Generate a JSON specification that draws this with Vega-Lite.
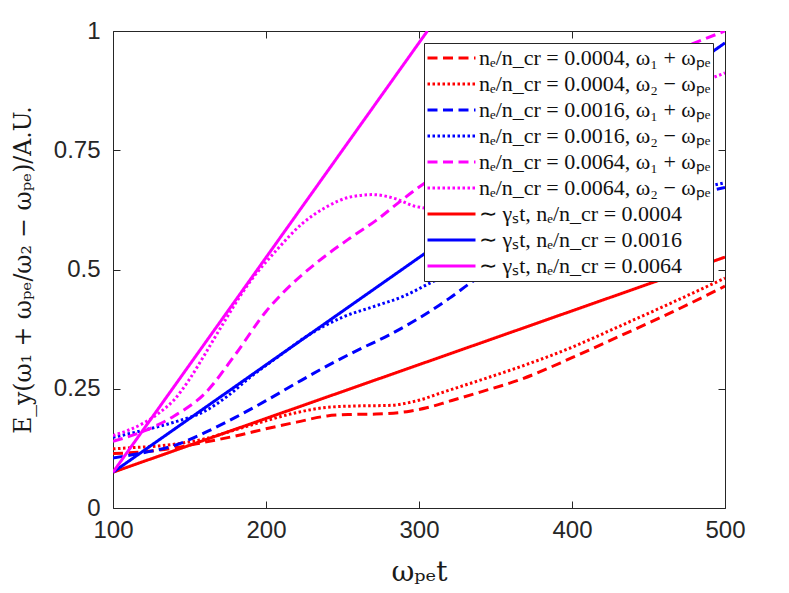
{
  "$schema": "https://vega.github.io/schema/vega-lite/v6.json",
  "width": 612,
  "height": 477,
  "autosize": {"type": "none"},
  "padding": {"left": 113, "top": 31, "right": 64, "bottom": 85},
  "background": "white",
  "view": {"stroke": "#262626", "strokeWidth": 1},
  "data": {
    "values": [
      {"s": "nₑ/n_cr = 0.0004, ω₁ + ωₚₑ", "t": 100, "E": 0.114},
      {"s": "nₑ/n_cr = 0.0004, ω₁ + ωₚₑ", "t": 120, "E": 0.118},
      {"s": "nₑ/n_cr = 0.0004, ω₁ + ωₚₑ", "t": 140, "E": 0.126},
      {"s": "nₑ/n_cr = 0.0004, ω₁ + ωₚₑ", "t": 160, "E": 0.138},
      {"s": "nₑ/n_cr = 0.0004, ω₁ + ωₚₑ", "t": 180, "E": 0.151},
      {"s": "nₑ/n_cr = 0.0004, ω₁ + ωₚₑ", "t": 200, "E": 0.166},
      {"s": "nₑ/n_cr = 0.0004, ω₁ + ωₚₑ", "t": 220, "E": 0.18},
      {"s": "nₑ/n_cr = 0.0004, ω₁ + ωₚₑ", "t": 240, "E": 0.193},
      {"s": "nₑ/n_cr = 0.0004, ω₁ + ωₚₑ", "t": 255, "E": 0.196},
      {"s": "nₑ/n_cr = 0.0004, ω₁ + ωₚₑ", "t": 272, "E": 0.197},
      {"s": "nₑ/n_cr = 0.0004, ω₁ + ωₚₑ", "t": 294, "E": 0.203},
      {"s": "nₑ/n_cr = 0.0004, ω₁ + ωₚₑ", "t": 305, "E": 0.21},
      {"s": "nₑ/n_cr = 0.0004, ω₁ + ωₚₑ", "t": 320, "E": 0.224},
      {"s": "nₑ/n_cr = 0.0004, ω₁ + ωₚₑ", "t": 340, "E": 0.243},
      {"s": "nₑ/n_cr = 0.0004, ω₁ + ωₚₑ", "t": 366, "E": 0.269},
      {"s": "nₑ/n_cr = 0.0004, ω₁ + ωₚₑ", "t": 400, "E": 0.315},
      {"s": "nₑ/n_cr = 0.0004, ω₁ + ωₚₑ", "t": 431, "E": 0.36},
      {"s": "nₑ/n_cr = 0.0004, ω₁ + ωₚₑ", "t": 465, "E": 0.41},
      {"s": "nₑ/n_cr = 0.0004, ω₁ + ωₚₑ", "t": 500, "E": 0.465},

      {"s": "nₑ/n_cr = 0.0004, ω₂ − ωₚₑ", "t": 100, "E": 0.124},
      {"s": "nₑ/n_cr = 0.0004, ω₂ − ωₚₑ", "t": 115, "E": 0.127},
      {"s": "nₑ/n_cr = 0.0004, ω₂ − ωₚₑ", "t": 130, "E": 0.13},
      {"s": "nₑ/n_cr = 0.0004, ω₂ − ωₚₑ", "t": 145, "E": 0.136},
      {"s": "nₑ/n_cr = 0.0004, ω₂ − ωₚₑ", "t": 160, "E": 0.145},
      {"s": "nₑ/n_cr = 0.0004, ω₂ − ωₚₑ", "t": 180, "E": 0.164},
      {"s": "nₑ/n_cr = 0.0004, ω₂ − ωₚₑ", "t": 200, "E": 0.183},
      {"s": "nₑ/n_cr = 0.0004, ω₂ − ωₚₑ", "t": 220, "E": 0.2},
      {"s": "nₑ/n_cr = 0.0004, ω₂ − ωₚₑ", "t": 240, "E": 0.211},
      {"s": "nₑ/n_cr = 0.0004, ω₂ − ωₚₑ", "t": 260, "E": 0.214},
      {"s": "nₑ/n_cr = 0.0004, ω₂ − ωₚₑ", "t": 280, "E": 0.215},
      {"s": "nₑ/n_cr = 0.0004, ω₂ − ωₚₑ", "t": 300, "E": 0.226},
      {"s": "nₑ/n_cr = 0.0004, ω₂ − ωₚₑ", "t": 315, "E": 0.242},
      {"s": "nₑ/n_cr = 0.0004, ω₂ − ωₚₑ", "t": 340, "E": 0.268},
      {"s": "nₑ/n_cr = 0.0004, ω₂ − ωₚₑ", "t": 366, "E": 0.296},
      {"s": "nₑ/n_cr = 0.0004, ω₂ − ωₚₑ", "t": 400, "E": 0.337},
      {"s": "nₑ/n_cr = 0.0004, ω₂ − ωₚₑ", "t": 431, "E": 0.381},
      {"s": "nₑ/n_cr = 0.0004, ω₂ − ωₚₑ", "t": 465, "E": 0.43},
      {"s": "nₑ/n_cr = 0.0004, ω₂ − ωₚₑ", "t": 500, "E": 0.482},

      {"s": "nₑ/n_cr = 0.0016, ω₁ + ωₚₑ", "t": 100, "E": 0.105},
      {"s": "nₑ/n_cr = 0.0016, ω₁ + ωₚₑ", "t": 120, "E": 0.116},
      {"s": "nₑ/n_cr = 0.0016, ω₁ + ωₚₑ", "t": 140, "E": 0.131},
      {"s": "nₑ/n_cr = 0.0016, ω₁ + ωₚₑ", "t": 160, "E": 0.158},
      {"s": "nₑ/n_cr = 0.0016, ω₁ + ωₚₑ", "t": 180, "E": 0.19},
      {"s": "nₑ/n_cr = 0.0016, ω₁ + ωₚₑ", "t": 200, "E": 0.225},
      {"s": "nₑ/n_cr = 0.0016, ω₁ + ωₚₑ", "t": 220, "E": 0.262},
      {"s": "nₑ/n_cr = 0.0016, ω₁ + ωₚₑ", "t": 240, "E": 0.298},
      {"s": "nₑ/n_cr = 0.0016, ω₁ + ωₚₑ", "t": 260, "E": 0.331},
      {"s": "nₑ/n_cr = 0.0016, ω₁ + ωₚₑ", "t": 280, "E": 0.362},
      {"s": "nₑ/n_cr = 0.0016, ω₁ + ωₚₑ", "t": 300, "E": 0.398},
      {"s": "nₑ/n_cr = 0.0016, ω₁ + ωₚₑ", "t": 320, "E": 0.44},
      {"s": "nₑ/n_cr = 0.0016, ω₁ + ωₚₑ", "t": 335, "E": 0.475},
      {"s": "nₑ/n_cr = 0.0016, ω₁ + ωₚₑ", "t": 370, "E": 0.54},
      {"s": "nₑ/n_cr = 0.0016, ω₁ + ωₚₑ", "t": 400, "E": 0.585},
      {"s": "nₑ/n_cr = 0.0016, ω₁ + ωₚₑ", "t": 450, "E": 0.635},
      {"s": "nₑ/n_cr = 0.0016, ω₁ + ωₚₑ", "t": 500, "E": 0.672},

      {"s": "nₑ/n_cr = 0.0016, ω₂ − ωₚₑ", "t": 100, "E": 0.148},
      {"s": "nₑ/n_cr = 0.0016, ω₂ − ωₚₑ", "t": 120, "E": 0.163},
      {"s": "nₑ/n_cr = 0.0016, ω₂ − ωₚₑ", "t": 140, "E": 0.18},
      {"s": "nₑ/n_cr = 0.0016, ω₂ − ωₚₑ", "t": 160, "E": 0.203},
      {"s": "nₑ/n_cr = 0.0016, ω₂ − ωₚₑ", "t": 175, "E": 0.235},
      {"s": "nₑ/n_cr = 0.0016, ω₂ − ωₚₑ", "t": 190, "E": 0.275},
      {"s": "nₑ/n_cr = 0.0016, ω₂ − ωₚₑ", "t": 210, "E": 0.322},
      {"s": "nₑ/n_cr = 0.0016, ω₂ − ωₚₑ", "t": 228, "E": 0.363},
      {"s": "nₑ/n_cr = 0.0016, ω₂ − ωₚₑ", "t": 250, "E": 0.4},
      {"s": "nₑ/n_cr = 0.0016, ω₂ − ωₚₑ", "t": 272, "E": 0.424},
      {"s": "nₑ/n_cr = 0.0016, ω₂ − ωₚₑ", "t": 290, "E": 0.444},
      {"s": "nₑ/n_cr = 0.0016, ω₂ − ωₚₑ", "t": 305, "E": 0.468},
      {"s": "nₑ/n_cr = 0.0016, ω₂ − ωₚₑ", "t": 350, "E": 0.54},
      {"s": "nₑ/n_cr = 0.0016, ω₂ − ωₚₑ", "t": 400, "E": 0.6},
      {"s": "nₑ/n_cr = 0.0016, ω₂ − ωₚₑ", "t": 450, "E": 0.645},
      {"s": "nₑ/n_cr = 0.0016, ω₂ − ωₚₑ", "t": 500, "E": 0.682},

      {"s": "nₑ/n_cr = 0.0064, ω₁ + ωₚₑ", "t": 100, "E": 0.14},
      {"s": "nₑ/n_cr = 0.0064, ω₁ + ωₚₑ", "t": 120, "E": 0.161},
      {"s": "nₑ/n_cr = 0.0064, ω₁ + ωₚₑ", "t": 140, "E": 0.193},
      {"s": "nₑ/n_cr = 0.0064, ω₁ + ωₚₑ", "t": 160, "E": 0.24},
      {"s": "nₑ/n_cr = 0.0064, ω₁ + ωₚₑ", "t": 180, "E": 0.322},
      {"s": "nₑ/n_cr = 0.0064, ω₁ + ωₚₑ", "t": 200, "E": 0.412},
      {"s": "nₑ/n_cr = 0.0064, ω₁ + ωₚₑ", "t": 211, "E": 0.451},
      {"s": "nₑ/n_cr = 0.0064, ω₁ + ωₚₑ", "t": 233, "E": 0.514},
      {"s": "nₑ/n_cr = 0.0064, ω₁ + ωₚₑ", "t": 255, "E": 0.566},
      {"s": "nₑ/n_cr = 0.0064, ω₁ + ωₚₑ", "t": 272, "E": 0.603},
      {"s": "nₑ/n_cr = 0.0064, ω₁ + ωₚₑ", "t": 285, "E": 0.636},
      {"s": "nₑ/n_cr = 0.0064, ω₁ + ωₚₑ", "t": 298, "E": 0.668},
      {"s": "nₑ/n_cr = 0.0064, ω₁ + ωₚₑ", "t": 350, "E": 0.77},
      {"s": "nₑ/n_cr = 0.0064, ω₁ + ωₚₑ", "t": 400, "E": 0.86},
      {"s": "nₑ/n_cr = 0.0064, ω₁ + ωₚₑ", "t": 450, "E": 0.935},
      {"s": "nₑ/n_cr = 0.0064, ω₁ + ωₚₑ", "t": 500, "E": 1.0},

      {"s": "nₑ/n_cr = 0.0064, ω₂ − ωₚₑ", "t": 100, "E": 0.152},
      {"s": "nₑ/n_cr = 0.0064, ω₂ − ωₚₑ", "t": 110, "E": 0.163},
      {"s": "nₑ/n_cr = 0.0064, ω₂ − ωₚₑ", "t": 120, "E": 0.178},
      {"s": "nₑ/n_cr = 0.0064, ω₂ − ωₚₑ", "t": 130, "E": 0.199},
      {"s": "nₑ/n_cr = 0.0064, ω₂ − ωₚₑ", "t": 140, "E": 0.227},
      {"s": "nₑ/n_cr = 0.0064, ω₂ − ωₚₑ", "t": 150, "E": 0.27},
      {"s": "nₑ/n_cr = 0.0064, ω₂ − ωₚₑ", "t": 160, "E": 0.322},
      {"s": "nₑ/n_cr = 0.0064, ω₂ − ωₚₑ", "t": 170, "E": 0.376},
      {"s": "nₑ/n_cr = 0.0064, ω₂ − ωₚₑ", "t": 189, "E": 0.472},
      {"s": "nₑ/n_cr = 0.0064, ω₂ − ωₚₑ", "t": 207, "E": 0.541},
      {"s": "nₑ/n_cr = 0.0064, ω₂ − ωₚₑ", "t": 224, "E": 0.597},
      {"s": "nₑ/n_cr = 0.0064, ω₂ − ωₚₑ", "t": 240, "E": 0.632},
      {"s": "nₑ/n_cr = 0.0064, ω₂ − ωₚₑ", "t": 255, "E": 0.652},
      {"s": "nₑ/n_cr = 0.0064, ω₂ − ωₚₑ", "t": 270, "E": 0.657},
      {"s": "nₑ/n_cr = 0.0064, ω₂ − ωₚₑ", "t": 285, "E": 0.648},
      {"s": "nₑ/n_cr = 0.0064, ω₂ − ωₚₑ", "t": 298, "E": 0.632},
      {"s": "nₑ/n_cr = 0.0064, ω₂ − ωₚₑ", "t": 320, "E": 0.625},
      {"s": "nₑ/n_cr = 0.0064, ω₂ − ωₚₑ", "t": 360, "E": 0.68},
      {"s": "nₑ/n_cr = 0.0064, ω₂ − ωₚₑ", "t": 420, "E": 0.8},
      {"s": "nₑ/n_cr = 0.0064, ω₂ − ωₚₑ", "t": 500, "E": 0.912},

      {"s": "∼ γₛt, nₑ/n_cr = 0.0004", "t": 100, "E": 0.075},
      {"s": "∼ γₛt, nₑ/n_cr = 0.0004", "t": 500, "E": 0.526},
      {"s": "∼ γₛt, nₑ/n_cr = 0.0016", "t": 100, "E": 0.075},
      {"s": "∼ γₛt, nₑ/n_cr = 0.0016", "t": 500, "E": 0.975},
      {"s": "∼ γₛt, nₑ/n_cr = 0.0064", "t": 100, "E": 0.075},
      {"s": "∼ γₛt, nₑ/n_cr = 0.0064", "t": 305.5, "E": 1.0}
    ]
  },
  "layer": [
    {
      "mark": {"type": "line", "clip": true, "interpolate": "monotone"},
      "encoding": {
        "x": {
          "field": "t",
          "type": "quantitative",
          "scale": {"domain": [100, 500], "nice": false, "zero": false},
          "axis": {
            "orient": "bottom",
            "values": [100, 200, 300, 400, 500],
            "title": "ωₚₑt",
            "domain": false,
            "grid": false,
            "tickSize": -7,
            "tickColor": "#262626",
            "labelPadding": 17,
            "labelFont": "Liberation Sans",
            "labelFontSize": 24,
            "labelColor": "#262626",
            "labelFlush": false,
            "titleFont": "DejaVu Serif",
            "titleFontSize": 28,
            "titleFontWeight": "normal",
            "titleColor": "#1a1a1a",
            "titleY": 50
          }
        },
        "y": {
          "field": "E",
          "type": "quantitative",
          "scale": {"domain": [0, 1], "nice": false},
          "axis": {
            "orient": "left",
            "values": [0, 0.25, 0.5, 0.75, 1],
            "format": ".2~g",
            "title": "E_y(ω₁ + ωₚₑ/ω₂ − ωₚₑ)/A.U.",
            "domain": false,
            "grid": false,
            "tickSize": -7,
            "tickColor": "#262626",
            "labelPadding": 20,
            "labelFont": "Liberation Sans",
            "labelFontSize": 24,
            "labelColor": "#262626",
            "labelFlush": false,
            "titleFont": "DejaVu Serif",
            "titleFontSize": 23.5,
            "titleFontWeight": "normal",
            "titleColor": "#1a1a1a",
            "titleX": -78
          }
        },
        "color": {
          "field": "s",
          "type": "nominal",
          "scale": {
            "domain": [
              "nₑ/n_cr = 0.0004, ω₁ + ωₚₑ",
              "nₑ/n_cr = 0.0004, ω₂ − ωₚₑ",
              "nₑ/n_cr = 0.0016, ω₁ + ωₚₑ",
              "nₑ/n_cr = 0.0016, ω₂ − ωₚₑ",
              "nₑ/n_cr = 0.0064, ω₁ + ωₚₑ",
              "nₑ/n_cr = 0.0064, ω₂ − ωₚₑ",
              "∼ γₛt, nₑ/n_cr = 0.0004",
              "∼ γₛt, nₑ/n_cr = 0.0016",
              "∼ γₛt, nₑ/n_cr = 0.0064"
            ],
            "range": ["#ff0000", "#ff0000", "#0000ff", "#0000ff", "#ff00ff", "#ff00ff", "#ff0000", "#0000ff", "#ff00ff"]
          },
          "legend": {
            "title": null,
            "orient": "top-right",
            "offset": 12,
            "zindex": 1,
            "fillColor": "white",
            "strokeColor": "#262626",
            "padding": 2,
            "symbolType": "stroke",
            "symbolSize": 2304,
            "clipHeight": 26,
            "rowPadding": 0,
            "labelOffset": 2,
            "labelFont": "Liberation Serif",
            "labelFontSize": 22,
            "labelColor": "#111111",
            "labelLimit": 400
          }
        },
        "strokeDash": {
          "field": "s",
          "type": "nominal",
          "scale": {
            "domain": [
              "nₑ/n_cr = 0.0004, ω₁ + ωₚₑ",
              "nₑ/n_cr = 0.0004, ω₂ − ωₚₑ",
              "nₑ/n_cr = 0.0016, ω₁ + ωₚₑ",
              "nₑ/n_cr = 0.0016, ω₂ − ωₚₑ",
              "nₑ/n_cr = 0.0064, ω₁ + ωₚₑ",
              "nₑ/n_cr = 0.0064, ω₂ − ωₚₑ",
              "∼ γₛt, nₑ/n_cr = 0.0004",
              "∼ γₛt, nₑ/n_cr = 0.0016",
              "∼ γₛt, nₑ/n_cr = 0.0064"
            ],
            "range": [[10, 5.5], [2.5, 2.5], [10, 5.5], [2.5, 2.5], [10, 5.5], [2.5, 2.5], [1, 0], [1, 0], [1, 0]]
          }
        },
        "strokeWidth": {
          "field": "s",
          "type": "nominal",
          "scale": {
            "domain": [
              "nₑ/n_cr = 0.0004, ω₁ + ωₚₑ",
              "nₑ/n_cr = 0.0004, ω₂ − ωₚₑ",
              "nₑ/n_cr = 0.0016, ω₁ + ωₚₑ",
              "nₑ/n_cr = 0.0016, ω₂ − ωₚₑ",
              "nₑ/n_cr = 0.0064, ω₁ + ωₚₑ",
              "nₑ/n_cr = 0.0064, ω₂ − ωₚₑ",
              "∼ γₛt, nₑ/n_cr = 0.0004",
              "∼ γₛt, nₑ/n_cr = 0.0016",
              "∼ γₛt, nₑ/n_cr = 0.0064"
            ],
            "range": [3, 3, 3, 3, 3, 3, 4, 4, 4]
          }
        }
      }
    },
    {
      "mark": {"type": "point", "opacity": 0},
      "encoding": {
        "x": {
          "field": "t",
          "type": "quantitative",
          "axis": {
            "orient": "top",
            "values": [100, 200, 300, 400, 500],
            "labels": false,
            "title": null,
            "domain": false,
            "grid": false,
            "tickSize": -7,
            "tickColor": "#262626"
          }
        },
        "y": {
          "field": "E",
          "type": "quantitative",
          "axis": {
            "orient": "right",
            "values": [0, 0.25, 0.5, 0.75, 1],
            "labels": false,
            "title": null,
            "domain": false,
            "grid": false,
            "tickSize": -7,
            "tickColor": "#262626"
          }
        }
      }
    }
  ],
  "resolve": {"axis": {"x": "independent", "y": "independent"}}
}
